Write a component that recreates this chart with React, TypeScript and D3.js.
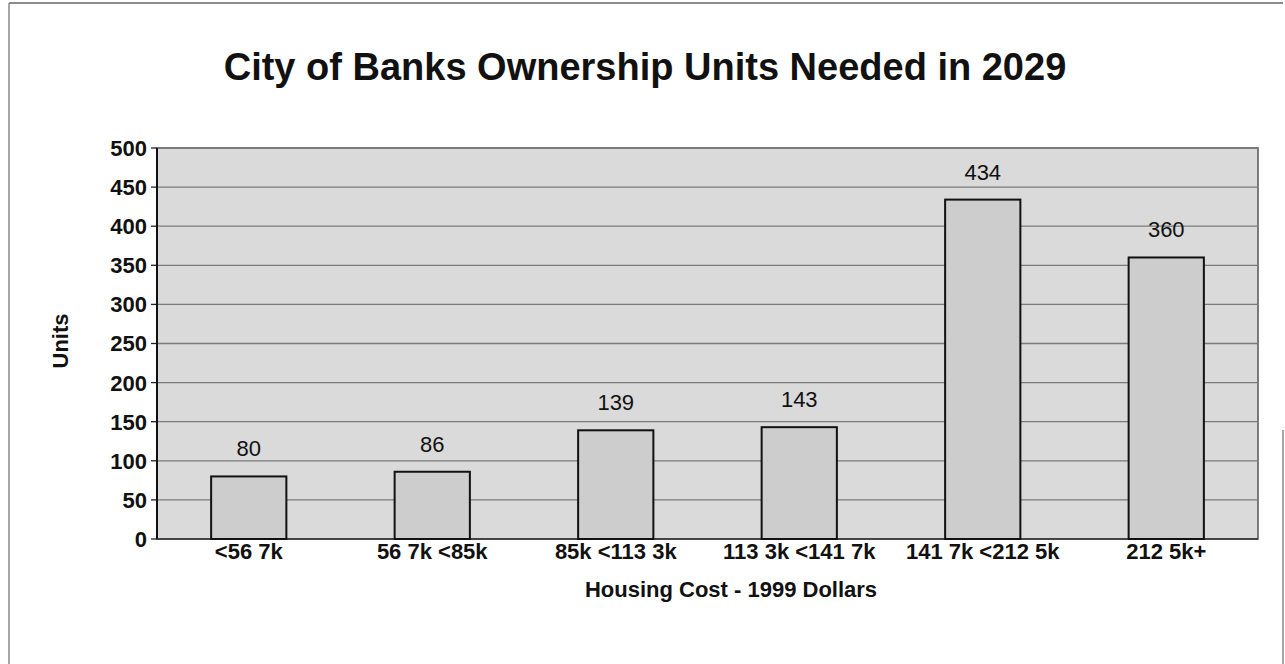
import React from "react";
import * as d3 from "d3";

const categories = ["<56 7k", "56 7k <85k", "85k <113 3k", "113 3k <141 7k", "141 7k <212 5k", "212 5k+"];
const units = [80, 86, 139, 143, 434, 360];
const yTicks = [0, 50, 100, 150, 200, 250, 300, 350, 400, 450, 500];

const W = 1285;
const H = 664;
const plot = { left: 157, right: 1258, top: 148, bottom: 539 };
const FONT = "'Liberation Sans', Arial, sans-serif";

export default function App() {
  const x = d3
    .scaleBand<string>()
    .domain(categories)
    .range([plot.left, plot.right])
    .paddingInner(0.59)
    .paddingOuter(0.295);
  const y = d3.scaleLinear().domain([0, 500]).range([plot.bottom, plot.top]);

  return (
    <svg
      width={W}
      height={H}
      style={{ position: "absolute", left: 0, top: 0, background: "#fff" }}
      fontFamily={FONT}
    >
      {/* outer frame */}
      <line x1={9} x2={1283} y1={3} y2={3} stroke="#666" strokeWidth={1.5} />
      <line x1={9} x2={9} y1={3} y2={664} stroke="#888" strokeWidth={1.5} />
      <line x1={1283} x2={1283} y1={430} y2={664} stroke="#888" strokeWidth={1.5} />

      <text x={645} y={80} textAnchor="middle" fontSize={38} fontWeight="bold" fill="#111">
        City of Banks Ownership Units Needed in 2029
      </text>

      {/* plot area */}
      <rect
        x={plot.left}
        y={plot.top}
        width={plot.right - plot.left}
        height={plot.bottom - plot.top}
        fill="#dadada"
        stroke="#555"
        strokeWidth={1.5}
      />
      {yTicks.map((t) => (
        <g key={t}>
          {t > 0 && (
            <line x1={plot.left} x2={plot.right} y1={y(t)} y2={y(t)} stroke="#7a7a7a" strokeWidth={1.3} />
          )}
          <line x1={plot.left - 6} x2={plot.left} y1={y(t)} y2={y(t)} stroke="#222" strokeWidth={1.3} />
          <text
            x={plot.left - 10}
            y={y(t)}
            dy="0.36em"
            textAnchor="end"
            fontSize={22}
            fontWeight="bold"
            fill="#111"
          >
            {t}
          </text>
        </g>
      ))}
      <line x1={plot.left} x2={plot.left} y1={plot.top} y2={plot.bottom} stroke="#111" strokeWidth={2} />
      <line x1={plot.left} x2={plot.right} y1={plot.bottom} y2={plot.bottom} stroke="#333" strokeWidth={1.5} />

      {categories.map((c, i) => (
        <g key={c}>
          <rect
            x={x(c)!}
            y={y(units[i])}
            width={x.bandwidth()}
            height={y(0) - y(units[i])}
            fill="#cdcdcd"
            stroke="#111"
            strokeWidth={2}
          />
          <text
            x={x(c)! + x.bandwidth() / 2}
            y={y(units[i]) - 20}
            textAnchor="middle"
            fontSize={22}
            fill="#111"
          >
            {units[i]}
          </text>
          <text
            x={x(c)! + x.bandwidth() / 2}
            y={559}
            textAnchor="middle"
            fontSize={22}
            fontWeight="bold"
            fill="#111"
          >
            {c}
          </text>
        </g>
      ))}

      <text x={731} y={597} textAnchor="middle" fontSize={22} fontWeight="bold" fill="#111">
        Housing Cost - 1999 Dollars
      </text>
      <text
        transform={`translate(68,${341}) rotate(-90)`}
        textAnchor="middle"
        fontSize={22}
        fontWeight="bold"
        fill="#111"
      >
        Units
      </text>
    </svg>
  );
}
